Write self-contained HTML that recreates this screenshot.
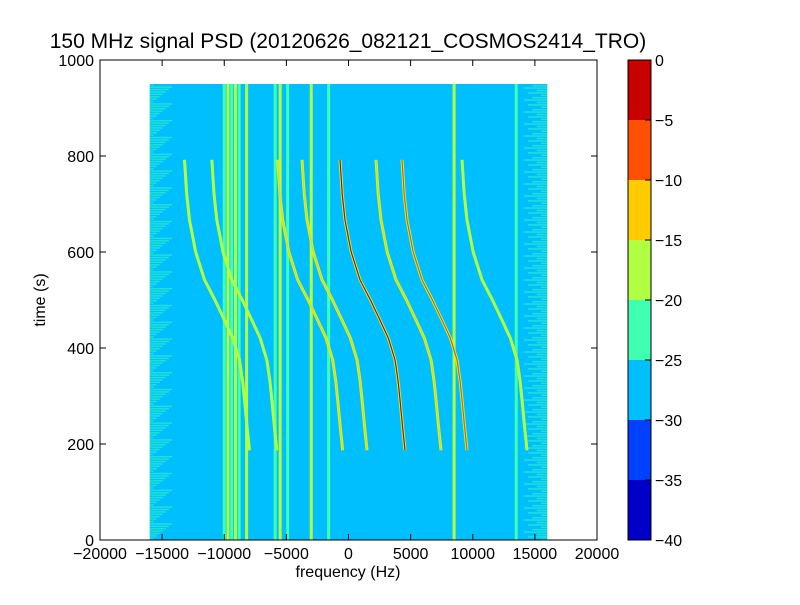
<!DOCTYPE html>
<html><head><meta charset="utf-8"><style>
body{margin:0;background:#fff;width:800px;height:600px;overflow:hidden;font-family:"Liberation Sans",sans-serif}
svg text{font-family:"Liberation Sans",sans-serif}
</style></head><body>
<svg id="chart" width="800" height="600" xmlns="http://www.w3.org/2000/svg">
<text x="348" y="48" font-size="21" text-anchor="middle">150 MHz signal PSD (20120626_082121_COSMOS2414_TRO)</text>
<g id="plot"></g>
<text x="348" y="577" font-size="16" text-anchor="middle">frequency (Hz)</text>
<text transform="translate(45,300) rotate(-90)" font-size="16" text-anchor="middle">time (s)</text>
<g id="cbar"></g>
</svg>
<script>
const xTicks=[-20000,-15000,-10000,-5000,0,5000,10000,15000,20000];
const yTicks=[0,200,400,600,800,1000];
const cbTicks=[0,-5,-10,-15,-20,-25,-30,-35,-40];
const cbColors=["#0000c8","#0040ff","#00bfff","#40ffb0","#b0ff40","#ffcc00","#ff5000","#c80000"];
const trackOffsets=[-13200,-11000,-5700,-3740,-684,2213,4306,9135];
const trackColors=["#b0ff40","#b0ff40","#ffcc00","#ffcc00","#c80000","#ffcc00","#ff5000","#b0ff40"];
const shapeTimes=[792,720,667,600,542,500,458,420,375,330,292,240,187];
const shapeFreqs=[0,180,400,900,1610,2450,3220,3900,4430,4680,4830,5020,5230];
const vLines=[-10000,-9700,-9400,-9100,-8800,-8200,-5900,-5500,-4900,-3000,-1600,8500,13500];
const sx=f=>100+(f+20000)*497/40000;
const sy=t=>540-t*480/1000;
const NS="http://www.w3.org/2000/svg";
function mk(tag,attrs,parent){const e=document.createElementNS(NS,tag);for(const k in attrs)e.setAttribute(k,attrs[k]);parent.appendChild(e);return e;}
const plot=document.getElementById('plot');
const bg=mk('rect',{x:sx(-16000),y:sy(950),width:sx(16000)-sx(-16000),height:sy(0)-sy(950),fill:'#00bfff'},plot);


for(let i=0;i<190;i++){
 const t=i*5;
 const w1=(i%7)*250+300,w2=((i*3)%5)*350+500;
 const a=mk('rect',{x:sx(-16000),y:sy(t+5),width:sx(-16000+w1)-sx(-16000),height:1.5,fill:'#40ffb0',opacity:0.5},plot);
 
 
 const b=mk('rect',{x:sx(16000-w2),y:sy(t+3),width:sx(16000)-sx(16000-w2),height:1.5,fill:'#40ffb0',opacity:0.5},plot);
 
 
}
vLines.forEach((f,i)=>{
 const l=mk('rect',{x:sx(f)-1.5,y:sy(950),width:3,height:sy(0)-sy(950),fill:i%2?'#b0ff40':'#40ffb0'},plot);
 
 
});
trackOffsets.forEach((o,i)=>{
 const d=shapeTimes.map((t,j)=>(j?'L':'M')+sx(o+shapeFreqs[j])+' '+sy(t)).join(' ');
 const p1=mk('path',{d:d,fill:'none',stroke:'#b0ff40',"stroke-width":3,"stroke-linejoin":"round"},plot);
 
 
 const p2=mk('path',{d:d,fill:'none',stroke:trackColors[i],"stroke-width":1.2,"stroke-linejoin":"round"},plot);
 
 
});
const frame=mk('rect',{x:100,y:60,width:497,height:480,fill:'none',stroke:'#000'},plot);


xTicks.forEach(v=>{
 const x=sx(v);
 mk('line',{x1:x,x2:x,y1:540,y2:534,stroke:'#000'},plot);
 mk('line',{x1:x,x2:x,y1:60,y2:66,stroke:'#000'},plot);
 const t=mk('text',{x:x,y:559,"font-size":16,"text-anchor":"middle"},plot);t.textContent=v<0?'\u2212'+(-v):v;
 
 
});
yTicks.forEach(v=>{
 const y=sy(v);
 mk('line',{x1:100,x2:106,y1:y,y2:y,stroke:'#000'},plot);
 mk('line',{x1:597,x2:591,y1:y,y2:y,stroke:'#000'},plot);
 const t=mk('text',{x:94,y:y+6,"font-size":16,"text-anchor":"end"},plot);t.textContent=v;
 
 
});
const cb=document.getElementById('cbar');
cbColors.forEach((c,i)=>{
 const r=mk('rect',{x:628,y:540-(i+1)*60,width:23,height:60,fill:c},cb);
 
 
});
mk('rect',{x:628,y:60,width:23,height:480,fill:'none',stroke:'#000'},cb);
cbTicks.forEach((v,i)=>{
 const y=60+i*60;
 mk('line',{x1:645,x2:651,y1:y,y2:y,stroke:'#000'},cb);
 const t=mk('text',{x:655,y:y+6,"font-size":16},cb);t.textContent=v<0?'\u2212'+(-v):v;
 
 
});
</script>
</body></html>
